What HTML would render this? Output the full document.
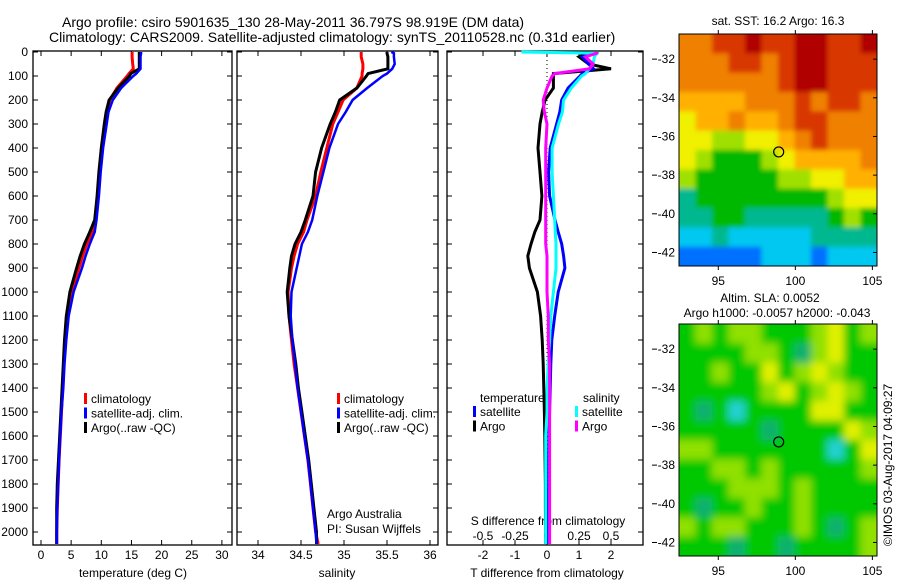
<!DOCTYPE html>
<html><head><meta charset="utf-8"><style>
html,body{margin:0;padding:0;background:#fff;width:900px;height:580px;overflow:hidden}
svg{display:block;font-family:"Liberation Sans",sans-serif}
</style></head><body>
<svg id="fig" width="900" height="580" viewBox="0 0 900 580" xmlns="http://www.w3.org/2000/svg">
<defs>
<filter id="blurS" x="-5%" y="-5%" width="110%" height="110%"><feGaussianBlur stdDeviation="2.5"/></filter>
<filter id="blurL" x="-5%" y="-5%" width="110%" height="110%"><feGaussianBlur stdDeviation="4"/></filter>
<clipPath id="clipSST"><rect x="679" y="34" width="198" height="232"/></clipPath>
<clipPath id="clipSLA"><rect x="679" y="324" width="198" height="232"/></clipPath>
</defs>
<text x="62" y="27" font-size="14">Argo profile: csiro 5901635_130 28-May-2011 36.797S 98.919E (DM data)</text>
<text x="49" y="42" font-size="14">Climatology: CARS2009. Satellite-adjusted climatology: synTS_20110528.nc (0.31d earlier)</text>
<text x="778" y="25" font-size="12" text-anchor="middle">sat. SST: 16.2 Argo: 16.3</text>
<text x="770" y="302" font-size="12" text-anchor="middle">Altim. SLA: 0.0052</text>
<text x="777" y="317" font-size="12" text-anchor="middle">Argo h1000: -0.0057 h2000: -0.043</text>
<text transform="translate(892,465) rotate(-90)" font-size="12" text-anchor="middle">©IMOS 03-Aug-2017 04:09:27</text>
<text x="327" y="518" font-size="12">Argo Australia</text>
<text x="327" y="533" font-size="12">PI: Susan Wijffels</text>
</svg>
<script>
const depths=[0,5,20,50,70,90,100,150,200,250,300,400,500,600,700,750,800,850,900,1000,1100,1200,1300,1400,1500,1600,1700,1800,1900,2000,2050];
const tempClim=[15.1,15.1,15.1,15.2,15.3,14.6,14.3,12.6,11.4,11.0,10.7,10.2,9.8,9.5,9.0,8.5,7.6,6.9,6.3,5.1,4.4,4.1,3.8,3.6,3.4,3.2,3.0,2.85,2.7,2.6,2.6];
const tempSat=[16.6,16.6,16.5,16.5,16.5,15.8,15.3,13.3,11.9,11.2,10.9,10.3,9.9,9.6,9.2,8.9,8.1,7.4,6.8,5.4,4.6,4.2,3.9,3.7,3.4,3.2,3.0,2.85,2.7,2.6,2.6];
const tempArgo=[16.3,16.3,16.3,16.3,16.3,14.9,14.7,12.8,11.3,10.8,10.5,10.0,9.6,9.3,8.9,8.1,7.2,6.5,5.9,4.8,4.2,3.9,3.7,3.5,3.3,3.1,2.9,2.7,2.6,2.6,2.6];
const salClim=[35.20,35.20,35.20,35.22,35.22,35.21,35.21,35.15,34.99,34.93,34.87,34.80,34.73,34.67,34.57,34.53,34.46,34.42,34.39,34.35,34.36,34.39,34.42,34.46,34.5,34.54,34.58,34.61,34.64,34.67,34.70];
const salSat=[35.55,35.58,35.58,35.59,35.56,35.50,35.45,35.27,35.10,35.02,34.93,34.83,34.76,34.69,34.63,34.58,34.51,34.48,34.45,34.39,34.38,34.40,34.43,34.46,34.5,34.54,34.58,34.61,34.64,34.67,34.68];
const salArgo=[35.50,35.50,35.51,35.51,35.51,35.28,35.26,35.15,34.95,34.90,34.84,34.74,34.67,34.64,34.55,34.50,34.43,34.39,34.37,34.34,34.36,34.40,34.44,34.47,34.51,34.55,34.59,34.62,34.65,34.68,34.68];
const tDiffSat=[1.55,1.55,1.1,1.3,1.45,1.1,1.03,0.66,0.46,0.4,0.3,0.1,0.05,0.08,0.25,0.35,0.46,0.52,0.56,0.35,0.24,0.15,0.12,0.1,0.08,0.06,0.05,0.05,0.04,0.03,0.03];
const tDiffArgo=[1.24,1.24,1.0,1.3,2.0,0.2,0.2,0.2,-0.06,-0.15,-0.22,-0.28,-0.22,-0.16,-0.22,-0.38,-0.5,-0.6,-0.55,-0.3,-0.2,-0.15,-0.12,-0.1,-0.08,-0.07,-0.06,-0.05,-0.05,-0.04,-0.04];
const sDiffSat=[-0.2,0.39,0.37,0.36,0.33,0.3,0.27,0.19,0.13,0.12,0.09,0.04,0.04,0.05,0.06,0.065,0.07,0.07,0.07,0.05,0.03,0.02,0.01,0.0,0.0,-0.01,-0.01,-0.01,-0.01,-0.01,-0.01];
const sDiffArgo=[0.39,0.39,0.3,0.36,0.33,0.06,0.04,0.0,-0.03,-0.02,0.0,-0.01,-0.01,-0.01,-0.01,-0.01,-0.01,0.0,0.0,0.0,0.01,0.01,0.02,0.02,0.02,0.02,0.02,0.02,0.02,0.02,0.02];
const depthTicks=[0,100,200,300,400,500,600,700,800,900,1000,1100,1200,1300,1400,1500,1600,1700,1800,1900,2000];
const tempTicks=[0,5,10,15,20,25,30];
const salTicks=[34,34.5,35,35.5,36];
const tDiffTicks=[-2,-1,0,1,2];
const sDiffTicks=[-0.5,-0.25,0,0.25,0.5];
const lonTicks=[95,100,105];
const latTicks=[-32,-34,-36,-38,-40,-42];
const sstGrid=[
[8,8,9,9,10,9,9,10,10,9,9,10],
[8,8,8,9,9,8,9,10,10,9,9,9],
[8,8,8,8,8,8,9,10,10,9,9,9],
[7,7,7,7,8,8,8,9,8,9,9,8],
[6,7,7,8,7,7,8,9,9,8,8,8],
[6,6,5,5,6,6,7,8,9,8,8,8],
[6,5,4,4,4,5,6,7,7,7,7,8],
[5,4,4,4,4,4,5,5,6,6,7,7],
[3,4,4,4,4,4,4,4,4,5,6,6],
[3,3,4,4,3,3,3,3,3,4,5,4],
[2,2,3,2,2,2,2,2,3,3,3,3],
[1,1,1,1,1,2,2,2,1,2,2,2]];
const slaGrid=[
[4,5,4,5,5,4,4,4,5,6,4,5],
[4,4,4,4,5,5,4,3,5,6,4,4],
[4,4,5,4,4,6,4,5,6,5,4,4],
[4,4,4,4,4,5,6,4,5,6,5,4],
[4,3,4,2,4,4,4,4,6,6,4,4],
[4,4,4,4,4,3,4,4,4,4,6,5],
[5,5,4,4,4,4,4,4,4,2,4,6],
[4,4,5,5,4,5,4,4,4,4,4,5],
[4,4,4,5,5,5,4,5,4,4,4,4],
[4,3,4,4,5,4,4,5,4,4,4,4],
[5,4,5,5,4,4,4,5,4,3,4,5],
[4,4,4,3,4,4,3,4,4,4,4,5]];
const argoLon=98.92, argoLat=-36.8;

const NS="http://www.w3.org/2000/svg";
const svg=document.getElementById('fig');
function mk(tag,attrs,parent){const e=document.createElementNS(NS,tag);for(const k in attrs)e.setAttribute(k,attrs[k]);(parent||svg).appendChild(e);return e;}
const yD=d=>52+0.24*d;
const PB=545;
const panels=[
 {name:'temperature',x0:33,x1:232,f:v=>41+6.03*v},
 {name:'salinity',x0:237,x1:438,f:v=>258+86*(v-34)},
 {name:'difference',x0:447,x1:643,f:v=>547+32*v}];
const fS=v=>547+128*v;

panels.forEach((p,i)=>{
  const g=mk('g',{});
  
  
  const r=mk('rect',{x:p.x0,y:51,width:p.x1-p.x0,height:PB-51,fill:'none',stroke:'#000','stroke-width':1.3},g);
  
  
  depthTicks.forEach(d=>{
    mk('line',{x1:p.x0,x2:p.x0+5,y1:yD(d),y2:yD(d),stroke:'#000'},g);
    mk('line',{x1:p.x1,x2:p.x1-5,y1:yD(d),y2:yD(d),stroke:'#000'},g);
  });
});
depthTicks.forEach(d=>{
  const t=mk('text',{x:28,y:yD(d)+4,'font-size':12,'text-anchor':'end'});
  
  
  t.textContent=d;
});
function xticks(ticks,f,labY){
  ticks.forEach(v=>{
    const x=f(v);
    mk('line',{x1:x,x2:x,y1:51,y2:56,stroke:'#000'});
    mk('line',{x1:x,x2:x,y1:PB,y2:PB-5,stroke:'#000'});
    const t=mk('text',{x:x,y:labY,'font-size':12,'text-anchor':'middle'});
    
    
    t.textContent=v;
  });
}
xticks(tempTicks,panels[0].f,559);
xticks(salTicks,panels[1].f,559);
xticks(tDiffTicks,panels[2].f,559);
sDiffTicks.forEach(v=>{
  const x=fS(v);
  mk('line',{x1:x,x2:x,y1:51,y2:56,stroke:'#000'});
  const t=mk('text',{x:x,y:540,'font-size':12,'text-anchor':'middle'});
  
  
  t.textContent=v;
});
[['temperature (deg C)',133,'temperature-axis-title'],['salinity',337,'salinity-axis-title'],['T difference from climatology',547,'t-diff-axis-title']].forEach(a=>{
  const t=mk('text',{x:a[1],y:577,'font-size':12,'text-anchor':'middle'});
  
  
  t.textContent=a[0];
});
const st=mk('text',{x:548,y:525,'font-size':12,'text-anchor':'middle'});


st.textContent='S difference from climatology';
const zl=mk('line',{x1:547,x2:547,y1:52,y2:PB,stroke:'#000','stroke-dasharray':'1,3'});



function line(vals,f,color,w,name){
  const pts=vals.map((v,i)=>f(v).toFixed(1)+','+yD(depths[i]).toFixed(1)).join(' ');
  const pl=mk('polyline',{points:pts,fill:'none',stroke:color,'stroke-width':w,'stroke-linejoin':'miter'});
  
  
}
line(tempClim,panels[0].f,'#ff0000',3,'temp-climatology-line');
line(tempArgo,panels[0].f,'#000000',3,'temp-argo-line');
line(tempSat,panels[0].f,'#0000ff',2.5,'temp-satellite-line');
line(salClim,panels[1].f,'#ff0000',3,'sal-climatology-line');
line(salArgo,panels[1].f,'#000000',3,'sal-argo-line');
line(salSat,panels[1].f,'#0000ff',2.5,'sal-satellite-line');
line(tDiffArgo,panels[2].f,'#000000',3,'t-diff-argo-line');
line(tDiffSat,panels[2].f,'#0000ff',3,'t-diff-satellite-line');
line(sDiffSat,fS,'#00ffff',3,'s-diff-satellite-line');
line(sDiffArgo,fS,'#ff00ff',3,'s-diff-argo-line');

function legend(x,y,items,prefix){
  items.forEach((it,i)=>{
    const r=mk('rect',{x:x,y:y+i*14.5-10,width:3,height:11,fill:it[1]});
    
    
    const t=mk('text',{x:x+7,y:y+i*14.5,'font-size':12});
    
    
    t.textContent=it[0];
  });
}
const legItems=[['climatology','#ff0000'],['satellite-adj. clim.','#0000ff'],['Argo(..raw -QC)','#000000']];
legend(84,403,legItems,'temperature');
legend(337,403,legItems,'salinity');
const lt=mk('text',{x:480,y:402,'font-size':12});lt.textContent='temperature';

const ls=mk('text',{x:583,y:402,'font-size':12});ls.textContent='salinity';

legend(473,416,[['satellite','#0000ff'],['Argo','#000000']],'diff-temperature');
legend(575,416,[['satellite','#00ffff'],['Argo','#ff00ff']],'diff-salinity');

const jet=['#0030c0','#0070ff','#00c8f0','#00b890','#00b800','#a0e000','#f0f000','#ffb000','#f08000','#d83800','#b00000'];
const slaCol=['#0000b0','#0050ff','#20d0d0','#10b070','#00c800','#90e000','#e0f000'];
function map(grid,y0,y1,cols,name,clip,filt){
  const x0=679,x1=877;
  const lonF=v=>x0+(v-92.45)*(x1-x0)/(105.3-92.45);
  const latF=v=>y0+(-30.7-v)*(y1-y0)/12;
  const g=mk('g',{});
  
  
  const cg=mk('g',{'clip-path':'url(#'+clip+')'},g);
  const bg=mk('g',{filter:'url(#'+filt+')'},cg);
  const nr=grid.length,nc=grid[0].length,cw=(x1-x0)/nc,ch=(y1-y0)/nr;
  grid.forEach((row,ri)=>row.forEach((v,ci)=>{
    const ex=(ci===0?-8:0), ew=(ci===0||ci===nc-1?8:0);
    const ey=(ri===0?-8:0), eh=(ri===0||ri===nr-1?8:0);
    const c=mk('rect',{x:(x0+ci*cw+ex).toFixed(2),y:(y0+ri*ch+ey).toFixed(2),width:(cw+0.6+ew).toFixed(2),height:(ch+0.6+eh).toFixed(2),fill:cols[v]},bg);
    
    
  }));
  mk('rect',{x:x0,y:y0,width:x1-x0,height:y1-y0,fill:'none',stroke:'#000'},g);
  latTicks.forEach(v=>{
    const y=latF(v);
    mk('line',{x1:x1,x2:x1-4,y1:y,y2:y,stroke:'#000'},g);
    mk('line',{x1:652,x2:657,y1:y,y2:y,stroke:'#000'},g);
    const t=mk('text',{x:675,y:y+4,'font-size':12,'text-anchor':'end'},g);
    
    
    t.textContent=v;
  });
  lonTicks.forEach(v=>{
    const x=lonF(v);
    mk('line',{x1:x,x2:x,y1:y0,y2:y0-4,stroke:'#000'},g);
    mk('line',{x1:x,x2:x,y1:y1,y2:y1+4,stroke:'#000'},g);
    const t=mk('text',{x:x,y:y1+19,'font-size':12,'text-anchor':'middle'},g);
    
    
    t.textContent=v;
  });
  const c=mk('circle',{cx:lonF(argoLon),cy:latF(argoLat),r:5,fill:'none',stroke:'#000','stroke-width':1.2},g);
  
  
}
map(sstGrid,34,266,jet,'sst-map','clipSST','blurS');
map(slaGrid,324,556,slaCol,'sla-map','clipSLA','blurL');
</script>
</body></html>
